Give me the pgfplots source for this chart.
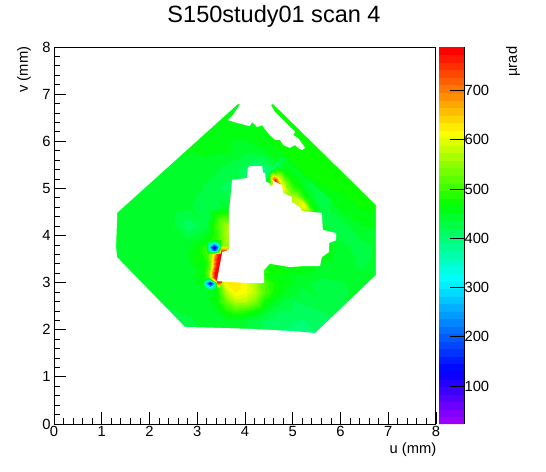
\documentclass[border=0pt]{standalone}
\usepackage{fontspec}
\setmainfont{Liberation Sans}
\usepackage{pgfplots}
\pgfplotsset{compat=1.18}
\definecolor{basegreen}{RGB}{0,255,35}
\pgfplotsset{
  colormap={rootpal}{
    rgb255(0pt)=(153,0,255) rgb255(135pt)=(0,0,255) rgb255(383pt)=(0,255,255)
    rgb255(584pt)=(0,255,0) rgb255(780pt)=(255,255,0) rgb255(1000pt)=(255,0,0)},
  colormap={rootbands}{samples of colormap=(50 of rootpal)},
  field/.style={surf,shader=interp,point meta=explicit,forget plot},
  mask/.style={draw=none,fill=white,even odd rule,forget plot}
}
\newcommand{\lab}{\fontsize{14.8}{16}\selectfont}
\begin{document}
\begin{tikzpicture}
\path[use as bounding box] (-54bp,-48bp) rectangle (492bp,424bp);
\begin{axis}[
  at={(0,0)},anchor=south west,
  scale only axis,width=382bp,height=377bp,
  xmin=0,xmax=8,ymin=0,ymax=8,
  xtick={0,...,8},ytick={0,...,8},minor tick num=4,
  tick align=inside,tick pos=left,
  tick style={black,line width=0.8bp},
  major tick length=12bp,minor tick length=6.5bp,
  axis line style={line width=1bp},
  axis on top,
  ticklabel style={font=\lab},
  /pgf/number format/assume math mode=true,
  xticklabel style={yshift=1bp},
  yticklabel style={xshift=0bp},
  title={S150study01 scan 4},
  title style={at={(axis description cs:0.576,1.064)},anchor=center,font=\fontsize{23.6}{26}\selectfont},
  xlabel={u (mm)},ylabel={v (mm)},
  every axis x label/.style={at={(axis description cs:1.01,-0.069)},anchor=east,font=\lab},
  every axis y label/.style={at={(axis description cs:-0.0785,1.01)},rotate=90,anchor=east,font=\lab},
  colormap name=rootbands,
  colormap access=piecewise constant,
  point meta min=23,point meta max=788,
  colorbar sampled,
  colorbar style={
    samples=51,
    at={(1.008,0)},anchor=south west,
    scale only axis,width=25bp,height=377bp,
    axis y line*=right,axis x line=none,
    ytick={100,200,...,700},
    tick align=inside,
    ytick pos=right,yticklabel pos=right,
    major tick length=14bp,
    tick style={black,line width=0.8bp},
    ticklabel style={font=\lab},
    yticklabel style={xshift=-3bp},
    /pgf/number format/assume math mode=true,
    ylabel={µrad},
    every axis y label/.style={at={(axis description cs:2.96,1.01)},rotate=90,anchor=east,font=\lab},
  },
]
% flat green under the field
\addplot[draw=none,fill=basegreen,forget plot] coordinates {(1.2,1.8) (6.8,1.8) (6.8,7.0) (1.2,7.0)} --cycle;
% background field, 0.4 mm grid
\addplot[field,mesh/cols=15] coordinates {
(1.2,1.8)[430] (1.6,1.8)[430] (2.0,1.8)[430] (2.4,1.8)[430] (2.8,1.8)[430] (3.2,1.8)[435] (3.6,1.8)[440] (4.0,1.8)[430] (4.4,1.8)[415] (4.8,1.8)[400] (5.2,1.8)[395] (5.6,1.8)[405] (6.0,1.8)[420] (6.4,1.8)[430] (6.8,1.8)[430]
(1.2,2.2)[430] (1.6,2.2)[430] (2.0,2.2)[430] (2.4,2.2)[432] (2.8,2.2)[435] (3.2,2.2)[440] (3.6,2.2)[450] (4.0,2.2)[440] (4.4,2.2)[420] (4.8,2.2)[410] (5.2,2.2)[405] (5.6,2.2)[410] (6.0,2.2)[425] (6.4,2.2)[435] (6.8,2.2)[435]
(1.2,2.6)[430] (1.6,2.6)[430] (2.0,2.6)[435] (2.4,2.6)[438] (2.8,2.6)[440] (3.2,2.6)[450] (3.6,2.6)[560] (4.0,2.6)[530] (4.4,2.6)[450] (4.8,2.6)[415] (5.2,2.6)[425] (5.6,2.6)[435] (6.0,2.6)[435] (6.4,2.6)[438] (6.8,2.6)[440]
(1.2,3.0)[432] (1.6,3.0)[435] (2.0,3.0)[440] (2.4,3.0)[445] (2.8,3.0)[445] (3.2,3.0)[450] (3.6,3.0)[590] (4.0,3.0)[590] (4.4,3.0)[500] (4.8,3.0)[470] (5.2,3.0)[440] (5.6,3.0)[430] (6.0,3.0)[435] (6.4,3.0)[440] (6.8,3.0)[440]
(1.2,3.4)[438] (1.6,3.4)[440] (2.0,3.4)[445] (2.4,3.4)[445] (2.8,3.4)[445] (3.2,3.4)[500] (3.6,3.4)[600] (4.0,3.4)[520] (4.4,3.4)[480] (4.8,3.4)[470] (5.2,3.4)[470] (5.6,3.4)[450] (6.0,3.4)[440] (6.4,3.4)[435] (6.8,3.4)[440]
(1.2,3.8)[440] (1.6,3.8)[442] (2.0,3.8)[445] (2.4,3.8)[448] (2.8,3.8)[450] (3.2,3.8)[470] (3.6,3.8)[560] (4.0,3.8)[500] (4.4,3.8)[480] (4.8,3.8)[470] (5.2,3.8)[470] (5.6,3.8)[470] (6.0,3.8)[440] (6.4,3.8)[430] (6.8,3.8)[440]
(1.2,4.2)[440] (1.6,4.2)[442] (2.0,4.2)[445] (2.4,4.2)[445] (2.8,4.2)[410] (3.2,4.2)[435] (3.6,4.2)[570] (4.0,4.2)[530] (4.4,4.2)[500] (4.8,4.2)[480] (5.2,4.2)[470] (5.6,4.2)[440] (6.0,4.2)[425] (6.4,4.2)[450] (6.8,4.2)[455]
(1.2,4.6)[440] (1.6,4.6)[440] (2.0,4.6)[445] (2.4,4.6)[448] (2.8,4.6)[440] (3.2,4.6)[420] (3.6,4.6)[440] (4.0,4.6)[500] (4.4,4.6)[500] (4.8,4.6)[550] (5.2,4.6)[560] (5.6,4.6)[430] (6.0,4.6)[455] (6.4,4.6)[468] (6.8,4.6)[468]
(1.2,5.0)[445] (1.6,5.0)[445] (2.0,5.0)[448] (2.4,5.0)[450] (2.8,5.0)[448] (3.2,5.0)[432] (3.6,5.0)[415] (4.0,5.0)[420] (4.4,5.0)[430] (4.8,5.0)[510] (5.2,5.0)[440] (5.6,5.0)[465] (6.0,5.0)[470] (6.4,5.0)[470] (6.8,5.0)[470]
(1.2,5.4)[450] (1.6,5.4)[450] (2.0,5.4)[450] (2.4,5.4)[450] (2.8,5.4)[450] (3.2,5.4)[445] (3.6,5.4)[430] (4.0,5.4)[415] (4.4,5.4)[395] (4.8,5.4)[440] (5.2,5.4)[468] (5.6,5.4)[472] (6.0,5.4)[470] (6.4,5.4)[470] (6.8,5.4)[470]
(1.2,5.8)[450] (1.6,5.8)[450] (2.0,5.8)[450] (2.4,5.8)[450] (2.8,5.8)[452] (3.2,5.8)[455] (3.6,5.8)[455] (4.0,5.8)[440] (4.4,5.8)[450] (4.8,5.8)[470] (5.2,5.8)[472] (5.6,5.8)[472] (6.0,5.8)[470] (6.4,5.8)[470] (6.8,5.8)[470]
(1.2,6.2)[450] (1.6,6.2)[450] (2.0,6.2)[450] (2.4,6.2)[450] (2.8,6.2)[450] (3.2,6.2)[455] (3.6,6.2)[458] (4.0,6.2)[460] (4.4,6.2)[465] (4.8,6.2)[470] (5.2,6.2)[470] (5.6,6.2)[470] (6.0,6.2)[470] (6.4,6.2)[470] (6.8,6.2)[470]
(1.2,6.6)[450] (1.6,6.6)[450] (2.0,6.6)[450] (2.4,6.6)[450] (2.8,6.6)[450] (3.2,6.6)[455] (3.6,6.6)[460] (4.0,6.6)[465] (4.4,6.6)[465] (4.8,6.6)[470] (5.2,6.6)[470] (5.6,6.6)[470] (6.0,6.6)[470] (6.4,6.6)[470] (6.8,6.6)[470]
(1.2,7.0)[450] (1.6,7.0)[450] (2.0,7.0)[450] (2.4,7.0)[450] (2.8,7.0)[450] (3.2,7.0)[455] (3.6,7.0)[460] (4.0,7.0)[465] (4.4,7.0)[465] (4.8,7.0)[470] (5.2,7.0)[470] (5.6,7.0)[470] (6.0,7.0)[470] (6.4,7.0)[470] (6.8,7.0)[470]
};
% yellow lobe below the hole
\addplot[field,mesh/cols=10] coordinates {
(3.2,2.2)[435] (3.4,2.2)[440] (3.6,2.2)[445] (3.8,2.2)[445] (4.0,2.2)[440] (4.2,2.2)[430] (4.4,2.2)[420] (4.6,2.2)[415] (4.8,2.2)[412] (5.0,2.2)[410]
(3.2,2.4)[440] (3.4,2.4)[450] (3.6,2.4)[480] (3.8,2.4)[500] (4.0,2.4)[490] (4.2,2.4)[470] (4.4,2.4)[445] (4.6,2.4)[425] (4.8,2.4)[420] (5.0,2.4)[420]
(3.2,2.6)[445] (3.4,2.6)[470] (3.6,2.6)[530] (3.8,2.6)[575] (4.0,2.6)[575] (4.2,2.6)[540] (4.4,2.6)[480] (4.6,2.6)[450] (4.8,2.6)[435] (5.0,2.6)[425]
(3.2,2.8)[445] (3.4,2.8)[465] (3.6,2.8)[580] (3.8,2.8)[620] (4.0,2.8)[610] (4.2,2.8)[575] (4.4,2.8)[515] (4.6,2.8)[475] (4.8,2.8)[455] (5.0,2.8)[440]
(3.2,3.0)[450] (3.4,3.0)[470] (3.6,3.0)[625] (3.8,3.0)[630] (4.0,3.0)[610] (4.2,3.0)[565] (4.4,3.0)[515] (4.6,3.0)[480] (4.8,3.0)[465] (5.0,3.0)[450]
(3.2,3.2)[450] (3.4,3.2)[500] (3.6,3.2)[640] (3.8,3.2)[620] (4.0,3.2)[560] (4.2,3.2)[500] (4.4,3.2)[470] (4.6,3.2)[460] (4.8,3.2)[455] (5.0,3.2)[450]
};
% band along the upper right edge of the hole
\addplot[field,mesh/cols=5] coordinates {
(4.35,5.19)[420] (4.48,5.34)[400] (4.55,5.41)[400] (4.65,5.53)[400] (4.78,5.68)[430]
(4.50,5.02)[500] (4.63,5.17)[780] (4.70,5.24)[600] (4.80,5.36)[470] (4.93,5.51)[445]
(4.65,4.89)[600] (4.78,5.04)[620] (4.85,5.11)[540] (4.95,5.23)[475] (5.08,5.38)[445]
(4.80,4.76)[560] (4.93,4.91)[550] (5.00,4.98)[505] (5.10,5.10)[465] (5.23,5.25)[445]
(4.95,4.63)[560] (5.08,4.78)[590] (5.15,4.85)[510] (5.25,4.97)[450] (5.38,5.12)[430]
(5.10,4.50)[560] (5.23,4.65)[620] (5.30,4.72)[495] (5.40,4.84)[440] (5.53,4.99)[430]
(5.25,4.37)[500] (5.38,4.52)[520] (5.45,4.59)[470] (5.55,4.71)[430] (5.68,4.86)[430]
(5.40,4.24)[440] (5.53,4.39)[440] (5.60,4.46)[430] (5.70,4.58)[425] (5.83,4.73)[430]
};
% red strip
\addplot[field,mesh/cols=7] coordinates {
(2.88,2.9)[450] (3.08,2.9)[450] (3.18,2.9)[450] (3.26,2.9)[450] (3.32,2.9)[480] (3.38,2.9)[520] (3.46,2.9)[560]
(2.907,3.04)[450] (3.107,3.04)[460] (3.207,3.04)[500] (3.287,3.04)[640] (3.347,3.04)[780] (3.407,3.04)[788] (3.487,3.04)[788]
(2.937,3.2)[450] (3.137,3.2)[470] (3.237,3.2)[540] (3.317,3.2)[680] (3.377,3.2)[788] (3.437,3.2)[788] (3.517,3.2)[788]
(2.966,3.35)[450] (3.166,3.35)[470] (3.266,3.35)[540] (3.346,3.35)[690] (3.406,3.35)[788] (3.466,3.35)[788] (3.546,3.35)[788]
(2.994,3.5)[460] (3.194,3.5)[490] (3.294,3.5)[570] (3.374,3.5)[720] (3.434,3.5)[788] (3.494,3.5)[788] (3.574,3.5)[788]
(3.024,3.656)[470] (3.224,3.656)[510] (3.324,3.656)[600] (3.404,3.656)[720] (3.464,3.656)[770] (3.524,3.656)[788] (3.604,3.656)[788]
(3.05,3.8)[470] (3.25,3.8)[500] (3.35,3.8)[530] (3.43,3.8)[540] (3.49,3.8)[540] (3.55,3.8)[530] (3.63,3.8)[530]
};
% blue spots at both ends of the strip
\addplot[field,mesh/cols=5] coordinates {
(3.21,3.616)[500] (3.28,3.616)[540] (3.35,3.616)[640] (3.42,3.616)[750] (3.49,3.616)[788]
(3.21,3.686)[470] (3.28,3.686)[300] (3.35,3.686)[180] (3.42,3.686)[300] (3.49,3.686)[650]
(3.21,3.756)[430] (3.28,3.756)[200] (3.35,3.756)[90] (3.42,3.756)[200] (3.49,3.756)[480]
(3.21,3.826)[450] (3.28,3.826)[340] (3.35,3.826)[250] (3.42,3.826)[340] (3.49,3.826)[470]
(3.21,3.896)[470] (3.28,3.896)[470] (3.35,3.896)[470] (3.42,3.896)[470] (3.49,3.896)[480]
};
\addplot[field,mesh/cols=5] coordinates {
(3.13,2.85)[450] (3.20,2.85)[450] (3.27,2.85)[450] (3.34,2.85)[480] (3.41,2.85)[500]
(3.13,2.92)[450] (3.20,2.92)[340] (3.27,2.92)[260] (3.34,2.92)[350] (3.41,2.92)[520]
(3.13,2.99)[440] (3.20,2.99)[220] (3.27,2.99)[100] (3.34,2.99)[220] (3.41,2.99)[560]
(3.13,3.06)[460] (3.20,3.06)[400] (3.27,3.06)[360] (3.34,3.06)[550] (3.41,3.06)[788]
(3.13,3.13)[470] (3.20,3.13)[520] (3.27,3.13)[600] (3.34,3.13)[740] (3.41,3.13)[788]
};
% white outside the scanned area
\addplot[mask] coordinates {
(0,0) (8,0) (8,8) (0,8) (0,0)
(1.32,4.48) (3.85,6.79) (3.90,6.79) (3.75,6.56) (3.64,6.45) (3.83,6.39) (4.10,6.32) (4.15,6.41)
(4.25,6.30) (4.36,6.34) (4.46,6.20) (4.52,6.13) (4.63,6.03) (4.73,6.03) (4.80,5.92) (4.94,5.86)
(5.05,5.92) (5.11,5.86) (5.19,5.81) (5.26,5.86) (5.11,6.07) (5.01,6.13) (5.05,6.20) (4.84,6.41)
(4.63,6.62) (4.54,6.77) (4.59,6.79) (6.74,4.65) (6.74,3.16) (5.47,1.93) (5.01,1.97) (4.10,2.02)
(2.74,2.06) (1.32,3.54) (1.30,3.76) (1.32,4.33) (1.32,4.48) (0,0)
} --cycle;
% the hole in the middle
\addplot[mask] coordinates {
(3.73,5.18) (4.04,5.22) (4.06,5.43) (4.10,5.47) (4.36,5.47) (4.38,5.33) (4.42,5.33) (4.44,5.14)
(4.52,5.11) (4.52,5.07) (4.59,5.07) (4.59,5.16) (4.77,5.07) (4.80,4.90) (4.98,4.82) (4.98,4.71)
(5.15,4.60) (5.19,4.52) (5.61,4.48) (5.63,4.12) (5.91,4.05) (5.91,3.90) (5.76,3.84) (5.76,3.65)
(5.61,3.54) (5.57,3.35) (5.21,3.35) (4.94,3.33) (4.52,3.40) (4.40,3.27) (4.40,2.99) (4.10,2.99)
(3.41,3.03) (3.525,3.65) (3.66,3.69) (3.66,4.54) (3.69,4.75)
} --cycle;
\end{axis}
\end{tikzpicture}
\end{document}
